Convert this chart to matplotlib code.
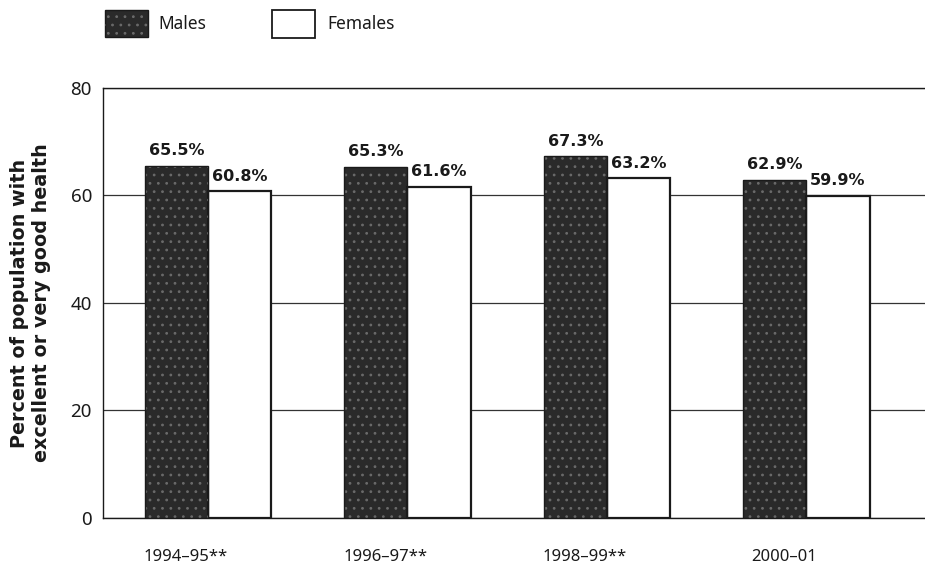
import numpy as np
import matplotlib.pyplot as plt

periods = ["1994\u201395**", "1996\u201397**", "1998\u201399**", "2000\u201301"]
males = [65.5, 65.3, 67.3, 62.9]
females = [60.8, 61.6, 63.2, 59.9]
yticks = [0, 20, 40, 60, 80]

plt.rcParams["font.family"] = ["Noto Sans", "DejaVu Sans"]
plt.rcParams["hatch.linewidth"] = 0.8
BOLD = ["DejaVu Sans"]
MALE_FILL = "#2a2a2a"
MALE_DOTS = "#6a6a6a"

fig = plt.figure(figsize=(9.25, 5.72), dpi=100)
ax = fig.add_axes([0.1114, 0.0944, 0.8886, 0.7518])

x = np.arange(len(periods))
w = 0.316

# male bars: dark fill with a light stipple
ax.bar(x - w / 2, males, w, color=MALE_FILL, linewidth=0, zorder=3)
ax.bar(x - w / 2, males, w, color="none", edgecolor=MALE_DOTS, hatch="..",
       linewidth=0, zorder=3.5)
ax.bar(x - w / 2, males, w, color="none", edgecolor="#1a1a1a", linewidth=1.0, zorder=4)
ax.bar(x + w / 2, females, w, color="white", edgecolor="#1a1a1a", linewidth=1.6, zorder=3)

for xi, m, f in zip(x, males, females):
    ax.text(xi - w / 2, m + 1.4, f"{m:.1f}%", ha="center", va="bottom",
            fontsize=11.5, fontweight="bold", family=BOLD, color="#1a1a1a")
    ax.text(xi + w / 2, f + 1.4, f"{f:.1f}%", ha="center", va="bottom",
            fontsize=11.5, fontweight="bold", family=BOLD, color="#1a1a1a")

ax.set_xlim(-0.526, 3.594)
ax.set_ylim(0, 80)
ax.set_yticks(yticks)
ax.set_yticklabels([str(v) for v in yticks], fontsize=13.5, color="#1a1a1a")
ax.tick_params(axis="y", length=0, pad=8)
ax.set_xticks(x - 0.11)
ax.set_xticklabels(periods, fontsize=12, color="#1a1a1a")
ax.tick_params(axis="x", length=0, pad=22)

ax.yaxis.grid(True, color="#333333", linewidth=0.9, zorder=0)
ax.set_axisbelow(True)
for side in ["left", "bottom", "top"]:
    ax.spines[side].set_color("#1a1a1a")
    ax.spines[side].set_linewidth(1.0)
ax.spines["right"].set_visible(False)

ax.set_ylabel("Percent of population with\nexcellent or very good health",
              fontsize=13.8, fontweight="bold", family=BOLD, color="#1a1a1a",
              labelpad=14, linespacing=1.2)

# legend swatches and labels
fig.patches.append(plt.Rectangle((105 / 925, 1 - 37 / 572), 43 / 925, 27 / 572,
                                 transform=fig.transFigure, facecolor=MALE_FILL,
                                 edgecolor="#1a1a1a", linewidth=1.0))
fig.patches.append(plt.Rectangle((105 / 925, 1 - 37 / 572), 43 / 925, 27 / 572,
                                 transform=fig.transFigure, facecolor="none",
                                 edgecolor=MALE_DOTS, hatch="..", linewidth=0))
fig.text(158 / 925, 1 - 24 / 572, "Males", fontsize=12.5, va="center", color="#1a1a1a")
fig.patches.append(plt.Rectangle((272 / 925, 1 - 38 / 572), 43 / 925, 28 / 572,
                                 transform=fig.transFigure, facecolor="white",
                                 edgecolor="#1a1a1a", linewidth=1.3))
fig.text(327 / 925, 1 - 24 / 572, "Females", fontsize=12.5, va="center", color="#1a1a1a")

fig.savefig("out.png", dpi=100)
